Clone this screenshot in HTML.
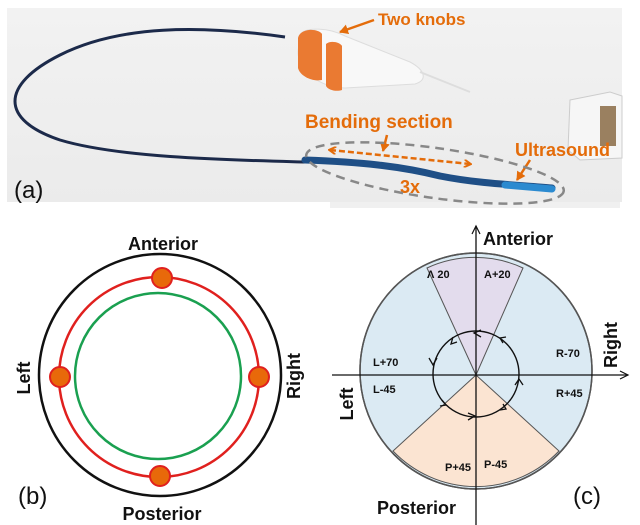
<!DOCTYPE html>
<html><head><meta charset="utf-8"><style>
html,body{margin:0;padding:0;background:#fff}
svg{display:block}
text{font-family:"Liberation Sans",Arial,sans-serif}
</style></head><body>
<svg width="640" height="525" viewBox="0 0 640 525" xmlns="http://www.w3.org/2000/svg">
<defs>
<linearGradient id="bg" x1="0" y1="0" x2="0" y2="1"><stop offset="0" stop-color="#f2f2f2"/><stop offset="1" stop-color="#ebebeb"/></linearGradient>
<marker id="oa" markerWidth="8" markerHeight="8" refX="6" refY="4" orient="auto-start-reverse" markerUnits="userSpaceOnUse"><path d="M0,0 L7,4 L0,8" fill="none" stroke="#e46c0a" stroke-width="2"/></marker>
<marker id="ob" markerWidth="10" markerHeight="10" refX="8" refY="5" orient="auto" markerUnits="userSpaceOnUse"><path d="M0,0 L9,5 L0,10z" fill="#e46c0a"/></marker>
</defs>
<rect x="7" y="8" width="615" height="194" fill="url(#bg)"/>
<rect x="330" y="202" width="290" height="6" fill="#f0f0f0"/>
<path d="M285,37 C200,25 120,25 60,55 C0,85 0,120 60,140 C120,158 230,160 305,162" fill="none" stroke="#1c2a4a" stroke-width="3"/>
<path d="M305,160 C360,162 400,166 440,176 C480,184 520,185 552,188" fill="none" stroke="#1f4f86" stroke-width="7" stroke-linecap="round"/>
<path d="M505,185 L552,189" stroke="#2b8ad0" stroke-width="7" stroke-linecap="round"/>
<!-- handle -->
<path d="M300,35 C305,26 330,28 345,36 L410,62 C425,70 428,80 415,84 L345,88 C320,88 298,70 298,52 Z" fill="#f8f8f8" stroke="#ddd"/>
<path d="M420,72 L470,92" stroke="#ddd" stroke-width="2"/>
<path d="M298,38 C300,28 318,28 322,34 L322,80 C312,82 300,76 298,68 Z" fill="#ea7a32"/>
<path d="M326,44 C330,40 340,42 342,46 L342,90 C336,92 328,90 326,86 Z" fill="#ea7a32"/>
<!-- connector -->
<path d="M570,100 L610,92 L622,96 L622,158 L580,160 L568,150 Z" fill="#f6f6f6" stroke="#ccc"/>
<rect x="600" y="106" width="16" height="40" fill="#9a8060"/>
<text x="378" y="25" font-size="17" font-weight="bold" fill="#e46c0a">Two knobs</text>
<line x1="374" y1="20" x2="340" y2="32" stroke="#e46c0a" stroke-width="2.5" marker-end="url(#ob)"/>
<text x="305" y="128" font-size="19" font-weight="bold" fill="#e46c0a">Bending section</text>
<text x="515" y="156" font-size="18" font-weight="bold" fill="#e46c0a">Ultrasound</text>
<line x1="530" y1="160" x2="517" y2="180" stroke="#e46c0a" stroke-width="2.5" marker-end="url(#ob)"/>
<line x1="387" y1="135" x2="383" y2="151" stroke="#e46c0a" stroke-width="2.5" marker-end="url(#ob)"/>
<path d="M330,150 L470,164" stroke="#e46c0a" stroke-width="2.5" stroke-dasharray="6,3" fill="none" marker-end="url(#oa)" marker-start="url(#oa)"/>
<text x="400" y="193" font-size="18" font-weight="bold" fill="#e46c0a">3x</text>
<ellipse cx="435" cy="173" rx="130" ry="25" transform="rotate(8 435 173)" fill="none" stroke="#888" stroke-width="2.5" stroke-dasharray="9,6"/>
<text x="14" y="198" font-size="24" fill="#111">(a)</text>

<circle cx="160" cy="375" r="121" fill="none" stroke="#111" stroke-width="2.5"/>
<circle cx="159" cy="377" r="100" fill="none" stroke="#e0201e" stroke-width="2.5"/>
<circle cx="158" cy="376" r="83" fill="none" stroke="#1aa050" stroke-width="2.5"/>
<g fill="#e8690a" stroke="#e0201e" stroke-width="2">
<circle cx="162" cy="278" r="10"/><circle cx="60" cy="377" r="10"/><circle cx="259" cy="377" r="10"/><circle cx="160" cy="476" r="10"/></g>
<text x="163" y="250" font-size="18" font-weight="bold" text-anchor="middle" fill="#111">Anterior</text>
<text x="162" y="520" font-size="18" font-weight="bold" text-anchor="middle" fill="#111">Posterior</text>
<text transform="translate(30,378) rotate(-90)" font-size="18" font-weight="bold" text-anchor="middle" fill="#111">Left</text>
<text transform="translate(300,376) rotate(-90)" font-size="18" font-weight="bold" text-anchor="middle" fill="#111">Right</text>
<text x="18" y="504" font-size="24" fill="#111">(b)</text>

<ellipse cx="476" cy="371" rx="116" ry="118" fill="#dbeaf3" stroke="#555" stroke-width="1.5"/>
<path d="M476,375 L427,268 A116,118 0 0 1 523,268 Z" fill="#e3dced" stroke="#555" stroke-width="1"/>
<path d="M476,375 L393,451 A116,118 0 0 0 559,451 Z" fill="#fbe4d2" stroke="#555" stroke-width="1"/>
<ellipse cx="476" cy="371" rx="116" ry="118" fill="none" stroke="#555" stroke-width="1.5"/>
<line x1="332" y1="375" x2="628" y2="375" stroke="#111" stroke-width="1.3"/>
<path d="M620,371 L628,375 L620,379" fill="none" stroke="#111" stroke-width="1.2"/>
<line x1="476" y1="525" x2="476" y2="226" stroke="#111" stroke-width="1.3"/>
<path d="M472,234 L476,226 L480,234" fill="none" stroke="#111" stroke-width="1.2"/>
<circle cx="476" cy="374" r="43" fill="none" stroke="#111" stroke-width="1.4"/>
<g fill="none" stroke="#111" stroke-width="1.3">
<path d="M481,330 L474,333 L481,337"/><path d="M453,337 L451,344 L457,342"/><path d="M429,358 L433,365 L437,358"/>
<path d="M442,400 L446,405 L440,406"/><path d="M468,413 L475,416 L468,420"/><path d="M503,404 L506,409 L500,410"/>
<path d="M515,385 L519,379 L523,385"/><path d="M503,343 L500,338 L506,337"/></g>
<g font-size="11" font-weight="bold" fill="#111">
<text x="427" y="278">Λ 20</text><text x="484" y="278">A+20</text>
<text x="373" y="366">L+70</text><text x="373" y="393">L-45</text>
<text x="556" y="357">R-70</text><text x="556" y="397">R+45</text>
<text x="445" y="471">P+45</text><text x="484" y="468">P-45</text></g>
<text x="483" y="245" font-size="18" font-weight="bold" fill="#111">Anterior</text>
<text x="377" y="514" font-size="18" font-weight="bold" fill="#111">Posterior</text>
<text transform="translate(353,404) rotate(-90)" font-size="18" font-weight="bold" text-anchor="middle" fill="#111">Left</text>
<text transform="translate(617,345) rotate(-90)" font-size="18" font-weight="bold" text-anchor="middle" fill="#111">Right</text>
<text x="573" y="504" font-size="24" fill="#111">(c)</text>
</svg>
</body></html>
